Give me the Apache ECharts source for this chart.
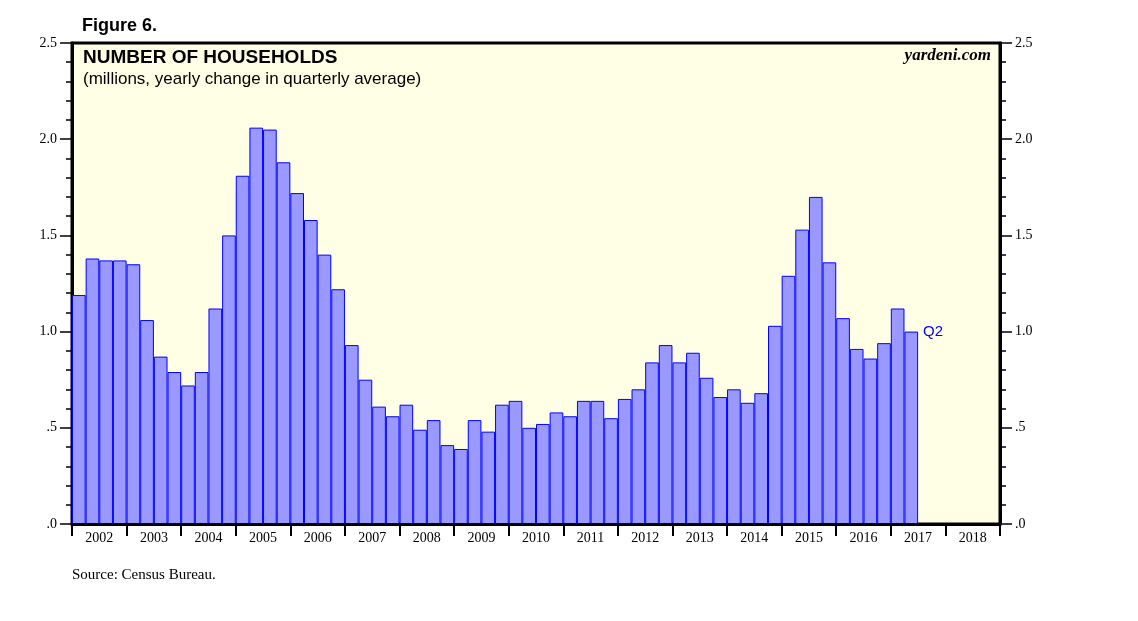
<!DOCTYPE html>
<html>
<head>
<meta charset="utf-8">
<script src="https://cdn.jsdelivr.net/npm/echarts@6/dist/echarts.min.js"></script>
<style>
html,body{margin:0;padding:0;background:#fff;}
#chart{width:1138px;height:621px;}
</style>
</head>
<body>
<div id="chart"></div>
<script>
// ---- data ----
const years = ['2002','2003','2004','2005','2006','2007','2008','2009','2010','2011','2012','2013','2014','2015','2016','2017','2018'];
const quarterNames = ['Q1','Q2','Q3','Q4'];
// yearly change in quarterly average number of households, millions (2002 Q1 .. 2017 Q2)
const households = [
  1.19, 1.38, 1.37, 1.37,
  1.35, 1.06, 0.87, 0.79,
  0.72, 0.79, 1.12, 1.50,
  1.81, 2.06, 2.05, 1.88,
  1.72, 1.58, 1.40, 1.22,
  0.93, 0.75, 0.61, 0.56,
  0.62, 0.49, 0.54, 0.41,
  0.39, 0.54, 0.48, 0.62,
  0.64, 0.50, 0.52, 0.58,
  0.56, 0.64, 0.64, 0.55,
  0.65, 0.70, 0.84, 0.93,
  0.84, 0.89, 0.76, 0.66,
  0.70, 0.63, 0.68, 1.03,
  1.29, 1.53, 1.70, 1.36,
  1.07, 0.91, 0.86, 0.94,
  1.12, 1.00
];
const lastLabel = 'Q2';
const yTicks = [0, 0.5, 1.0, 1.5, 2.0, 2.5];

// ---- build ----
const quarters = [];
years.forEach(y => quarterNames.forEach(q => quarters.push(y + ' ' + q)));
const barData = quarters.map((q, i) => {
  if (i >= households.length) return '-';
  if (i === households.length - 1) {
    return {
      value: households[i],
      label: {
        show: true, formatter: lastLabel, position: ['100%', 0], offset: [5, 0],
        align: 'left', verticalAlign: 'middle',
        color: '#0000FF', fontFamily: 'Liberation Sans', fontSize: 15
      }
    };
  }
  return households[i];
});
const fmtY = v => v.toFixed(1).replace(/^0/, '');

const serif = 'Liberation Serif';
const sans = 'Liberation Sans';

const yAxisCommon = {
  type: 'value', min: yTicks[0], max: yTicks[yTicks.length - 1], interval: 0.5,
  splitLine: { show: false },
  axisLine: { show: true, lineStyle: { color: '#000', width: 3 } },
  axisTick: { show: true, length: 12, lineStyle: { color: '#000', width: 1.5 } },
  minorTick: { show: true, splitNumber: 5, length: 6, lineStyle: { color: '#000', width: 1.5 } },
  axisLabel: { formatter: fmtY, fontFamily: serif, fontSize: 14, color: '#000', margin: 15 }
};

const chart = echarts.init(document.getElementById('chart'), null, { renderer: 'canvas' });
chart.setOption({
  animation: false,
  backgroundColor: '#fff',
  title: [
    { text: 'Figure 6.', left: 82, top: 17, padding: 0, textStyle: { fontFamily: sans, fontSize: 18, fontWeight: 'bold', color: '#000' } },
    { text: 'NUMBER OF HOUSEHOLDS', left: 83, top: 48, padding: 0, textStyle: { fontFamily: sans, fontSize: 19, fontWeight: 'bold', color: '#000' } },
    { text: '(millions, yearly change in quarterly average)', left: 83, top: 71, padding: 0, textStyle: { fontFamily: sans, fontSize: 17, fontWeight: 'normal', color: '#000' } },
    { text: 'yardeni.com', right: 147, top: 47, padding: 0, textStyle: { fontFamily: serif, fontSize: 17, fontStyle: 'italic', fontWeight: 'bold', color: '#000' } },
    { text: 'Source: Census Bureau.', left: 72, top: 568, padding: 0, textStyle: { fontFamily: serif, fontSize: 15, fontWeight: 'normal', color: '#000' } }
  ],
  grid: {
    left: 72, right: 138, top: 43, bottom: 97,
    show: true, backgroundColor: '#FFFFE6', borderColor: '#000', borderWidth: 3
  },
  xAxis: [
    {
      type: 'category', data: quarters, position: 'bottom', show: false
    },
    {
      type: 'category', data: years, position: 'bottom', z: 5,
      axisLine: { show: true, lineStyle: { color: '#000', width: 3 } },
      axisTick: { show: true, length: 12, lineStyle: { color: '#000', width: 2 } },
      axisLabel: { fontFamily: serif, fontSize: 14, color: '#000', margin: 7 },
      splitLine: { show: false }
    }
  ],
  yAxis: [
    Object.assign({ position: 'left' }, yAxisCommon),
    Object.assign({ position: 'right' }, yAxisCommon)
  ],
  series: [{
    type: 'bar', xAxisIndex: 0, yAxisIndex: 0,
    data: barData,
    barCategoryGap: '0%',
    itemStyle: { color: '#9999FF', borderColor: '#0000FF', borderWidth: 1 }
  }]
});
</script>
</body>
</html>
